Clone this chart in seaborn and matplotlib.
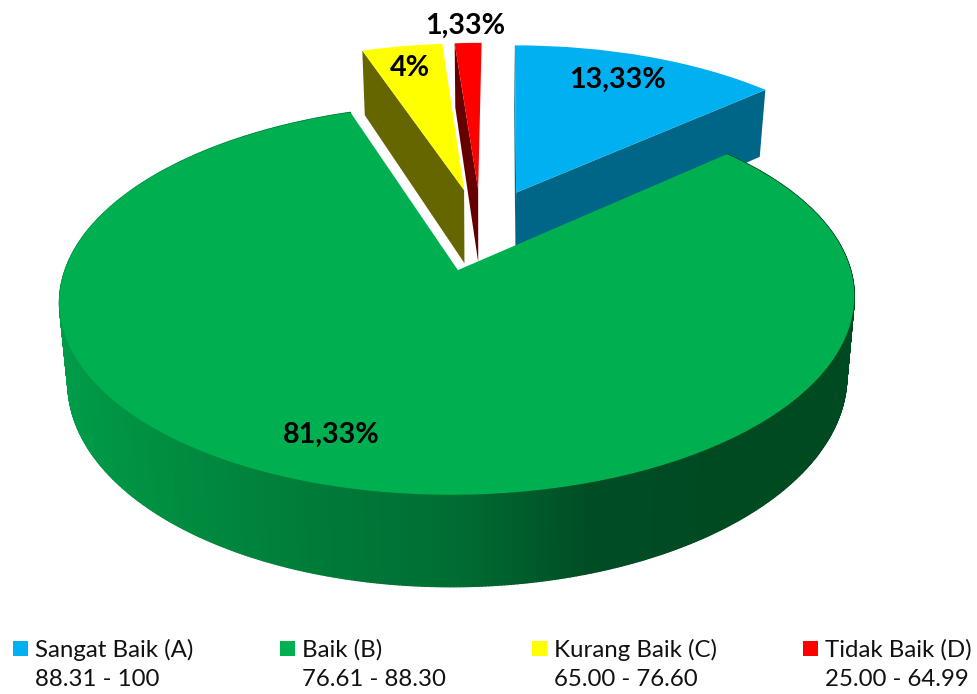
import numpy as np
import matplotlib
matplotlib.use("Agg")
import matplotlib.pyplot as plt
import seaborn as sns
from matplotlib.collections import PolyCollection
from matplotlib.legend_handler import HandlerPatch
from matplotlib.patches import Rectangle, Wedge
from matplotlib.transforms import Transform

# ---- data -------------------------------------------------------------
categories = ["Sangat Baik (A)", "Baik (B)", "Kurang Baik (C)", "Tidak Baik (D)"]
score_ranges = ["88.31 - 100", "76.61 - 88.30", "65.00 - 76.60", "25.00 - 64.99"]
percentages = [13.33, 81.33, 4.0, 1.33]
percent_labels = ["13,33%", "81,33%", "4%", "1,33%"]

# ---- style ------------------------------------------------------------
top_colors = ["#00B0F0", "#00B050", "#FFFF00", "#FF0000"]
wall_colors = ["#006688", "#005E2B", "#666600", "#660000"]
green_wall = sns.blend_palette(["#009C49", "#008A3F", "#007A38", "#006D33", "#004D25", "#004A22", "#004A22"],
                               as_cmap=True)
label_xy = [(617, 80), (331, 435), (410, 68), (465, 26)]
draw_order = [3, 2, 0, 1]
W, H = 977, 694

# ---- oblique projection of the pie plane onto the picture --------------
CX, HORIZON, K, C, S, DEPTH, SHRINK, SHEAR = 481.0, -994.0, 1223.0, 0.146, 380.0, 75.5, 0.02, 3.0
EXPLODE = 0.23


def project(u, v, z=0.0):
    v = np.asarray(v)
    w = 1 + C * v
    return (CX + S * np.asarray(u) * (1 - SHRINK * z) / w + SHEAR * v,
            HORIZON + (K + DEPTH * z) / w)


class PieProjection(Transform):
    input_dims = output_dims = 2
    is_separable = False
    has_inverse = False

    def transform_non_affine(self, values):
        x, y = project(values[:, 0], values[:, 1])
        return np.column_stack([x, y])


sns.set_theme(style="white")
plt.rcParams["font.family"] = ["Lato", "DejaVu Sans"]

fig = plt.figure(figsize=(W / 100, H / 100), dpi=100, facecolor="white")
ax = fig.add_axes([0, 0, 1, 1])
wedges, _ = ax.pie(percentages, explode=[EXPLODE] * len(percentages), startangle=90,
                   counterclock=False, colors=top_colors, radius=1.0,
                   wedgeprops=dict(linewidth=0))
ax.set_aspect("auto")
ax.set_xlim(0, W)
ax.set_ylim(H, 0)
ax.axis("off")

proj = PieProjection() + ax.transData


def radial_wall(wedge, angle):
    cx, cy = wedge.center
    t = np.radians(angle)
    u = np.array([cx, cx + np.cos(t)])
    v = np.array([cy, cy + np.sin(t)])
    x0, y0 = project(u, v, 0.0)
    x1, y1 = project(u, v, 1.0)
    return np.column_stack([np.r_[x0, x1[::-1]], np.r_[y0, y1[::-1]]])


for rank, i in enumerate(draw_order):
    wedge = wedges[i]
    base = 10 + rank * 10
    wedge.set_transform(proj)
    wedge.set_zorder(base + 5)
    # radial side faces seen from the front
    if i != 1:
        angles = (wedge.theta1, wedge.theta2) if i == 0 else (wedge.theta2,)
        for angle in angles:
            ax.fill(*radial_wall(wedge, angle).T, color=wall_colors[i], lw=0, zorder=base)
        continue
    # outer curved side of the big slice, the only one facing the viewer
    t = np.radians(np.linspace(wedge.theta1, wedge.theta2, 721))
    u = wedge.center[0] + np.cos(t)
    v = wedge.center[1] + np.sin(t)
    x0, y0 = project(u, v, 0.0)
    x1, y1 = project(u, v, 1.0)
    strips = [[(x0[k], y0[k]), (x0[k + 1], y0[k + 1]), (x1[k + 1], y1[k + 1]), (x1[k], y1[k])]
              for k in range(len(t) - 1)]
    colors = green_wall((0.5 * (x0[:-1] + x0[1:]) - 60) / 795)
    ax.add_collection(PolyCollection(strips, facecolors=colors, edgecolors=colors,
                                     linewidths=1.0, zorder=base + 1), autolim=False)

for text, (x, y) in zip(percent_labels, label_xy):
    ax.text(x, y, text, ha="center", va="center", fontsize=20.6, fontweight="bold",
            color="black", zorder=100)


def square(legend, orig_handle, xdescent, ydescent, width, height, fontsize):
    return Rectangle((-xdescent, -ydescent + 0.69 * fontsize), width, width)


labels = [f"{c}\n{r}" for c, r in zip(categories, score_ranges)]
leg = ax.legend(wedges, labels, ncols=4, loc="lower left", bbox_to_anchor=(0.0, -0.013),
                bbox_transform=fig.transFigure, frameon=False, fontsize=17.3,
                handlelength=0.62, handleheight=0.62, handletextpad=0.29,
                columnspacing=3.6, borderpad=0.1, borderaxespad=0.44,
                handler_map={Wedge: HandlerPatch(patch_func=square)})
for t in leg.get_texts():
    t.set_linespacing(1.49)
    t.set_color("#111111")

fig.savefig("out.png", dpi=100)
